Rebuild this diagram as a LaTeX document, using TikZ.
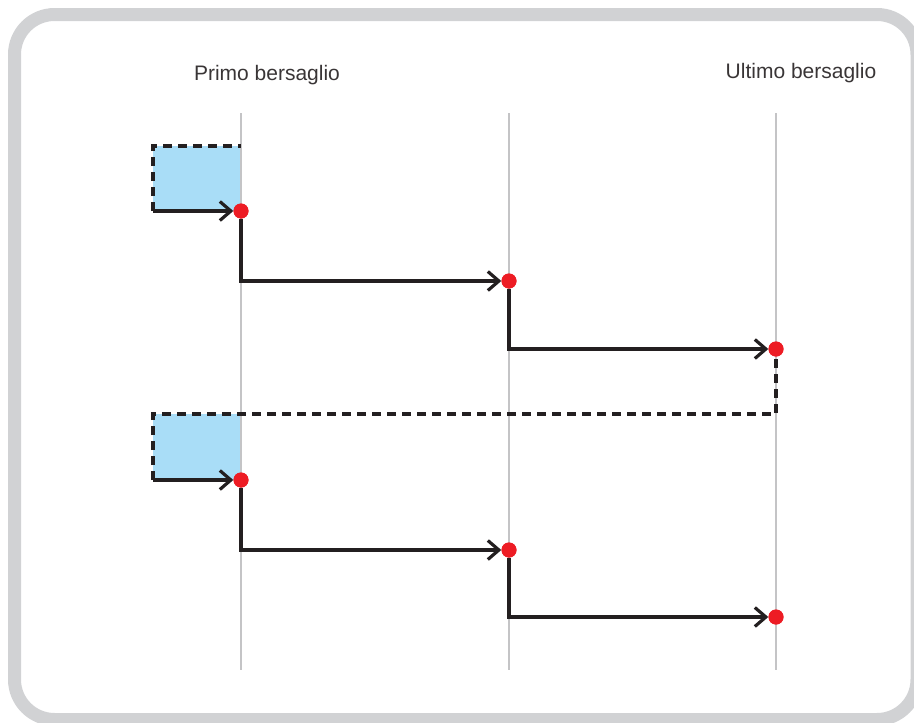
\documentclass[tikz,border=0pt]{standalone}
\usepackage{fontspec}
\setmainfont{Liberation Sans}
\usetikzlibrary{arrows.meta}
\definecolor{framegray}{HTML}{D1D2D4}
\definecolor{guidegray}{HTML}{C4C4C6}
\definecolor{boxblue}{HTML}{A9DDF7}
\definecolor{dotred}{HTML}{ED1C24}
\definecolor{inkblack}{HTML}{231F20}
\tikzset{
  frameline/.style={line width=13pt, draw=framegray, rounded corners=40pt},
  guide/.style={line width=2pt, draw=guidegray},
  hit/.style={circle, fill=dotred, inner sep=0pt, minimum size=15pt},
  flow/.style={line width=3.2pt, draw=inkblack, -{Straight Barb[length=11pt,width=19pt,line width=3.2pt]}},
  dashline/.style={line width=3.2pt, draw=inkblack, dash pattern=on 9pt off 6pt},
  waitbox/.style={fill=boxblue},
  headtext/.style={font=\fontsize{21pt}{24pt}\selectfont, text=inkblack!90}
}
\begin{document}
\begin{tikzpicture}[x=1pt,y=-1pt]
\useasboundingbox (0,0) rectangle (914,723);
\draw[frameline] (14.5,14.5) rectangle (917,719.5);
% waiting boxes
\fill[waitbox] (153,146) rectangle (241,211);
\fill[waitbox] (153,414) rectangle (241,480);
% guide lines
\draw[guide] (241,113) -- (241,670);
\draw[guide] (509,113) -- (509,670);
\draw[guide] (776,113) -- (776,670);
% labels
\node[headtext] (first) at (267,75) {Primo bersaglio};
\node[headtext] (last) at (801,73) {Ultimo bersaglio};
% dots
\node[hit] (d1) at (241,211) {};
\node[hit] (d2) at (509,281) {};
\node[hit] (d3) at (776,349) {};
\node[hit] (d4) at (241,480) {};
\node[hit] (d5) at (509,550) {};
\node[hit] (d6) at (776,617) {};
% coordinates
\coordinate (s1) at (153,211);
\coordinate (s4) at (153,480);
\coordinate (t1) at (241,146);
\coordinate (b1) at (153,146);
\coordinate (t4) at (153,414);
\coordinate (r4) at (776,414);
% dashed edges
\draw[dashline] (s1) -- (b1) -- (t1);
\draw[dashline] (s4) -- (t4) -- (r4) -- (d3.south);
% flows
\draw[flow] (s1) -- (d1);
\draw[flow] (d1.south) |- (d2);
\draw[flow] (d2.south) |- (d3);
\draw[flow] (s4) -- (d4);
\draw[flow] (d4.south) |- (d5);
\draw[flow] (d5.south) |- (d6);
% redraw dots on top
\node[hit] at (d1) {};
\node[hit] at (d2) {};
\node[hit] at (d3) {};
\node[hit] at (d4) {};
\node[hit] at (d5) {};
\node[hit] at (d6) {};
\end{tikzpicture}
\end{document}
